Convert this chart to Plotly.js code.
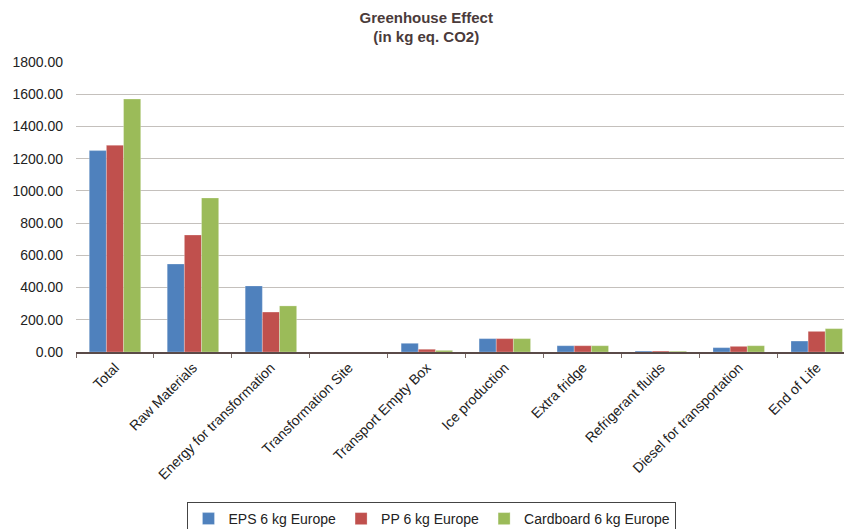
<!DOCTYPE html>
<html>
<head>
<meta charset="utf-8">
<script src="https://cdn.plot.ly/plotly-3.0.1.min.js"></script>
<style>html,body{margin:0;padding:0;overflow:hidden;background:#fff;}</style>
</head>
<body>
<div id="chart" style="width:844px;height:529px;"></div>
<script>
const categories = ["Total", "Raw Materials", "Energy for transformation", "Transformation Site",
  "Transport Empty Box", "Ice production", "Extra fridge", "Refrigerant fluids",
  "Diesel for transportation", "End of Life"];
const epsValues = [1250, 546, 410, 0, 54, 83, 39, 6, 27, 68];
const ppValues = [1283, 726, 248, 0, 17, 83, 39, 6, 35, 128];
const cardboardValues = [1570, 956, 286, 0, 10, 83, 39, 5, 39, 145];
const seriesNames = ["EPS 6 kg Europe", "PP 6 kg Europe", "Cardboard 6 kg Europe"];
const yTicks = [0, 200, 400, 600, 800, 1000, 1200, 1400, 1600, 1800];

const colors = ["#4f81bd", "#c0504d", "#9bbb59"];
const series = [epsValues, ppValues, cardboardValues];
const font = "Liberation Sans, Arial, sans-serif";

const traces = series.map((vals, i) => ({
  type: "bar",
  name: seriesNames[i],
  x: categories,
  y: vals,
  marker: {color: colors[i], line: {color: "rgba(255,255,255,0.5)", width: 0.5}},
  hoverinfo: "x+y+name"
}));

const layout = {
  width: 844, height: 529,
  margin: {l: 76, r: 0, t: 62, b: 177, autoexpand: false},
  paper_bgcolor: "#ffffff", plot_bgcolor: "#ffffff",
  font: {family: font, size: 14, color: "#222"},
  title: {
    text: "<b>Greenhouse Effect<br>(in kg eq. CO2)</b>",
    x: 0.505, xanchor: "center",
    yref: "container", y: 0.957, yanchor: "top",
    font: {family: font, size: 15, color: "#4a3b3b"}
  },
  barmode: "group",
  bargap: 0.34,
  bargroupgap: 0,
  xaxis: {
    type: "category",
    range: [-0.5, 9.35],
    automargin: false,
    tickangle: -45,
    tickson: "boundaries",
    ticks: "outside", ticklen: 4, tickcolor: "#7a6a66",
    showline: true, linecolor: "#5a4a48", linewidth: 2,
    showgrid: false,
    tickfont: {family: font, size: 14, color: "#222"},
    fixedrange: true
  },
  yaxis: {
    range: [0, 1800],
    automargin: false,
    tickvals: yTicks,
    tickformat: ".2f",
    showgrid: true, gridcolor: "#c4c0bc", gridwidth: 1,
    zeroline: false, showline: false,
    ticks: "", ticklabelstandoff: 12,
    tickfont: {family: font, size: 14, color: "#222"},
    fixedrange: true
  },
  showlegend: true,
  legend: {
    orientation: "h",
    x: 0.4635, xanchor: "center",
    yref: "container",
    y: 0.051, yanchor: "top",
    bordercolor: "#444", borderwidth: 1,
    font: {family: font, size: 14, color: "#222"},
    itemwidth: 30,
    traceorder: "normal"
  }
};

Plotly.newPlot("chart", traces, layout, {displayModeBar: false, staticPlot: true});
</script>
</body>
</html>
